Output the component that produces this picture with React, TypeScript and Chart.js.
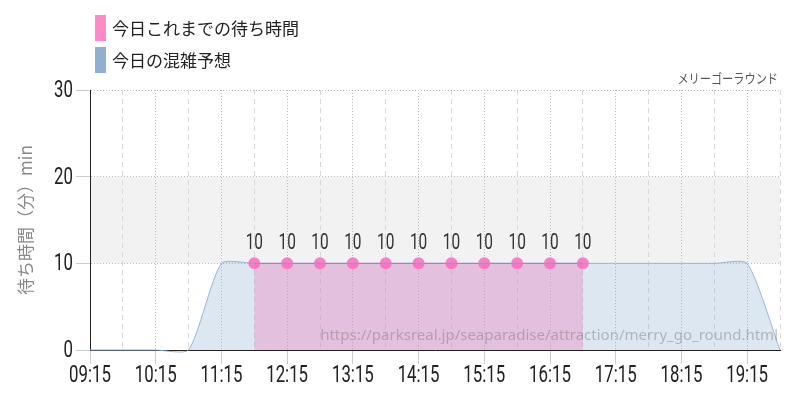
import React, { useEffect, useRef } from "react";
import { Chart, registerables } from "chart.js";

Chart.register(...registerables);

// ---- data ----
const forecastTimes = [
  "09:15", "09:45", "10:15", "10:45", "11:15", "11:45", "12:15", "12:45",
  "13:15", "13:45", "14:15", "14:45", "15:15", "15:45", "16:15", "16:45",
  "17:15", "17:45", "18:15", "18:45", "19:15", "19:45",
];
const forecastValues = [0, 0, 0, 0, 10, 10, 10, 10, 10, 10, 10, 10, 10, 10, 10, 10, 10, 10, 10, 10, 10, 0];

const actualTimes = [
  "11:45", "12:15", "12:45", "13:15", "13:45", "14:15", "14:45", "15:15", "15:45", "16:15", "16:45",
];
const actualValues = [10, 10, 10, 10, 10, 10, 10, 10, 10, 10, 10];

const yTickValues = [0, 10, 20, 30];
const xStart = "09:15";
const xEnd = "19:45";
const bandRange = [10, 20];

const legendLabels = ["今日これまでの待ち時間", "今日の混雑予想"];
const titleText = "メリーゴーラウンド";
const yAxisTitle = "待ち時間（分）min";
const sourceUrl = "https://parksreal.jp/seaparadise/attraction/merry_go_round.html";

// ---- styles ----
const PINK = "#ff88c8";
const BLUE = "#8fb0d0";
const NUM_FONT = "Roboto, 'Noto Sans', sans-serif";
const JP_FONT = "'Noto Sans CJK JP', 'Noto Sans', sans-serif";
const NARROW = 0.7;

const toMin = (t: string) => {
  const [h, m] = t.split(":").map(Number);
  return h * 60 + m;
};
const fmt = (v: number) => {
  const h = Math.floor(v / 60);
  const m = v % 60;
  return `${String(h).padStart(2, "0")}:${String(m).padStart(2, "0")}`;
};

const drawNarrow = (ctx: any, text: string, x: number, y: number, align: string, sx: number) => {
  ctx.save();
  ctx.translate(x, y);
  ctx.scale(sx, 1);
  ctx.textAlign = align;
  ctx.fillText(text, 0, 0);
  ctx.restore();
};

const bandPlugin = {
  id: "band",
  beforeDraw(chart: any) {
    const { ctx, chartArea, scales } = chart;
    const y = scales.y;
    const top = y.getPixelForValue(bandRange[1]);
    const bottom = y.getPixelForValue(bandRange[0]);
    ctx.save();
    ctx.fillStyle = "#f2f2f2";
    ctx.fillRect(chartArea.left, top, chartArea.right - chartArea.left, bottom - top);
    ctx.restore();
  },
};

const labelsPlugin = {
  id: "pointLabels",
  afterDatasetsDraw(chart: any) {
    const { ctx } = chart;
    const meta = chart.getDatasetMeta(1);
    ctx.save();
    ctx.font = `22px ${NUM_FONT}`;
    ctx.fillStyle = "#333";
    ctx.textBaseline = "middle";
    meta.data.forEach((el: any, i: number) => {
      drawNarrow(ctx, String(actualValues[i]), el.x, el.y - 20, "center", NARROW);
    });
    ctx.restore();
  },
};

const axisLabelsPlugin = {
  id: "axisLabels",
  afterDraw(chart: any) {
    const { ctx, chartArea, scales } = chart;
    const minX = toMin(xStart);
    ctx.save();
    ctx.fillStyle = "#222";
    ctx.textBaseline = "middle";
    ctx.font = `24px ${NUM_FONT}`;
    scales.x.ticks.forEach((t: any) => {
      if ((t.value - minX) % 60 !== 0) return;
      drawNarrow(ctx, fmt(t.value), scales.x.getPixelForValue(t.value), chartArea.bottom + 26, "center", NARROW);
    });
    scales.y.ticks.forEach((t: any) => {
      drawNarrow(ctx, String(t.value), chartArea.left - 17, scales.y.getPixelForValue(t.value) + 1, "right", NARROW);
    });
    // title (top-right)
    ctx.fillStyle = "#555";
    ctx.font = `13px ${JP_FONT}`;
    ctx.textBaseline = "middle";
    drawNarrow(ctx, titleText, chartArea.right - 2, chartArea.top - 12, "right", 0.86);
    // watermark
    ctx.font = `15px 'Noto Sans', sans-serif`;
    ctx.fillStyle = "rgba(120,120,120,0.45)";
    ctx.textAlign = "right";
    ctx.fillText(sourceUrl, chartArea.right - 2, chartArea.bottom - 14);
    ctx.restore();
  },
};

export default function App() {
  const canvasRef = useRef<HTMLCanvasElement | null>(null);

  useEffect(() => {
    if (!canvasRef.current) return;
    const minX = toMin(xStart);
    const maxX = toMin(xEnd);
    const isHour = (c: any) => c.tick && (c.tick.value - minX) % 60 === 0;
    const chart = new Chart(canvasRef.current, {
      type: "line",
      data: {
        datasets: [
          {
            label: legendLabels[1],
            data: forecastTimes.map((t, i) => ({ x: toMin(t), y: forecastValues[i] })),
            borderColor: "rgba(143,176,208,0.9)",
            borderWidth: 1,
            backgroundColor: "rgba(143,176,208,0.3)",
            fill: "origin",
            pointRadius: 0,
            tension: 0.2,
            capBezierPoints: false,
            clip: 6,
            order: 2,
          },
          {
            label: legendLabels[0],
            data: actualTimes.map((t, i) => ({ x: toMin(t), y: actualValues[i] })),
            borderColor: "#b070c0",
            borderWidth: 1,
            backgroundColor: "rgba(234,134,194,0.4)",
            fill: "origin",
            pointRadius: 6,
            pointBackgroundColor: "rgba(245,110,190,0.85)",
            pointBorderWidth: 0,
            tension: 0,
            order: 1,
          },
        ],
      },
      options: {
        animation: false,
        responsive: false,
        layout: { padding: { top: 90, right: 20, left: 0, bottom: 0 } },
        plugins: {
          legend: { display: false },
          tooltip: { enabled: false },
          title: { display: false },
        },
        scales: {
          x: {
            type: "linear",
            min: minX,
            max: maxX,
            afterFit: (s: any) => {
              s.height = 50;
            },
            afterBuildTicks: (s: any) => {
              const ticks = [];
              for (let v = minX; v <= maxX; v += 30) ticks.push({ value: v });
              s.ticks = ticks;
            },
            ticks: { display: false },
            grid: {
              color: (c: any) => (isHour(c) ? "#bbbbbb" : "#d8d8d8"),
              tickColor: (c: any) => (isHour(c) ? "#cccccc" : "rgba(0,0,0,0)"),
              tickLength: 14,
              lineWidth: 1,
            },
            border: {
              display: true,
              color: "#222",
              width: 1,
              dash: (c: any) => (isHour(c) ? [1, 2] : [5, 4]),
            },
          },
          y: {
            type: "linear",
            min: yTickValues[0],
            max: yTickValues[yTickValues.length - 1],
            afterFit: (s: any) => {
              s.width = 90;
            },
            afterBuildTicks: (s: any) => {
              s.ticks = yTickValues.map((v) => ({ value: v }));
            },
            ticks: { display: false },
            grid: {
              color: "#bbbbbb",
              tickColor: "#cccccc",
              tickLength: 14,
            },
            border: { display: true, color: "#222", width: 1, dash: [1, 2] },
            title: {
              display: true,
              text: yAxisTitle,
              color: "#888",
              font: { family: JP_FONT, size: 17 },
              padding: { top: 15, bottom: 0 },
            },
          },
        },
      },
      plugins: [bandPlugin, labelsPlugin, axisLabelsPlugin],
    } as any);
    return () => chart.destroy();
  }, []);

  const legendColors = [PINK, BLUE];

  return (
    <div style={{ position: "fixed", left: 0, top: 0, width: 800, height: 400, background: "#fff" }}>
      <canvas ref={canvasRef} width={800} height={400} style={{ display: "block" }} />
      <div style={{ position: "absolute", left: 95, top: 15 }}>
        {legendLabels.map((l, i) => (
          <div key={l} style={{ display: "flex", alignItems: "center", height: 26, marginBottom: 6 }}>
            <div style={{ width: 11, height: 26, background: legendColors[i], marginRight: 6 }} />
            <span style={{ fontFamily: JP_FONT, fontSize: 17, color: "#222", lineHeight: "26px" }}>{l}</span>
          </div>
        ))}
      </div>
    </div>
  );
}
